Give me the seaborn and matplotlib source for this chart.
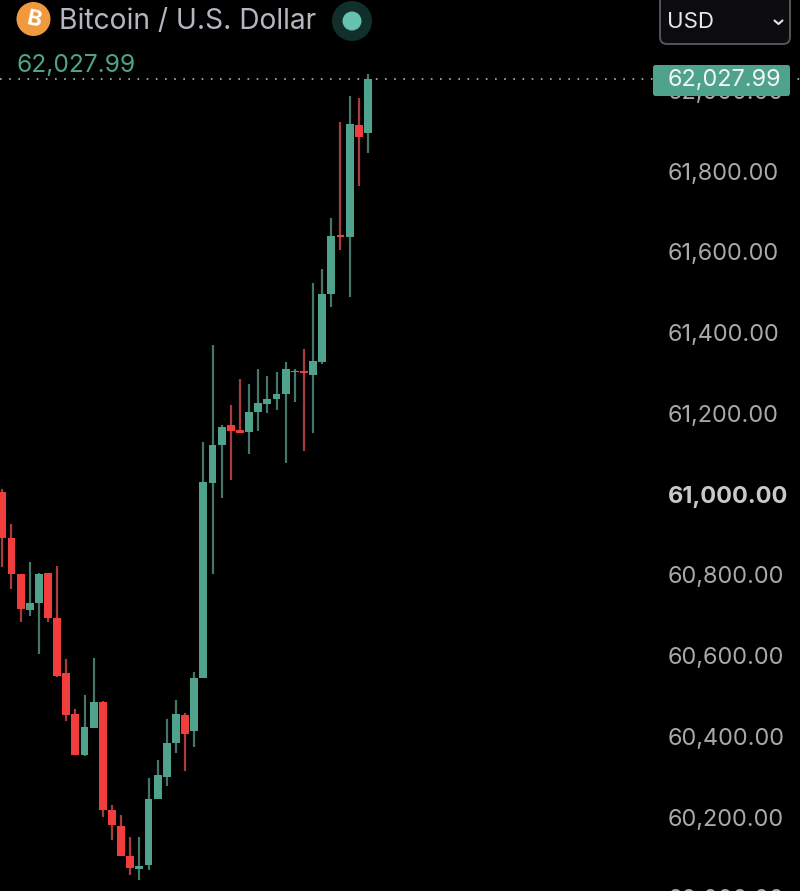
import numpy as np
import pandas as pd
import seaborn as sns
import matplotlib
matplotlib.use("Agg")
import matplotlib.pyplot as plt
from matplotlib.lines import Line2D
from matplotlib.patches import Circle, FancyBboxPatch, Rectangle

# BTC/USD candles, oldest first
opens = [61006, 60890, 60802, 60713, 60731, 60804, 60693, 60557, 60455, 60354, 60421,
         60486, 60217, 60177, 60103, 60072, 60081, 60244, 60300, 60383, 60453, 60414,
         60544, 61027, 61121, 61170, 61159, 61154, 61202, 61222, 61236, 61248, 61301,
         61305, 61295, 61328, 61495, 61642, 61636, 61915, 61893]
closes = [60890, 60802, 60714, 60731, 60802, 60693, 60550, 60453, 60354, 60422, 60486,
          60217, 60179, 60103, 60073, 60079, 60245, 60305, 60383, 60454, 60406, 60545,
          61030, 61121, 61167, 61156, 61152, 61202, 61225, 61236, 61248, 61310, 61305,
          61299, 61329, 61495, 61640, 61637, 61916, 61883, 62027.99]
highs = [61012, 60926, 60802, 60831, 60804, 60805, 60822, 60591, 60468, 60502, 60595,
         60487, 60230, 60204, 60150, 60151, 60296, 60341, 60442, 60490, 60457, 60558,
         61130, 61370, 61171, 61221, 61286, 61272, 61310, 61292, 61301, 61328, 61309,
         61359, 61522, 61557, 61684, 61921, 61986, 61981, 62040]
lows = [60820, 60765, 60682, 60698, 60604, 60682, 60546, 60438, 60354, 60352, 60421,
        60201, 60143, 60103, 60056, 60044, 60069, 60244, 60278, 60358, 60314, 60373,
        60544, 60801, 60989, 61035, 61152, 61099, 61157, 61200, 61208, 61076, 61229,
        61107, 61152, 61321, 61464, 61604, 61489, 61763, 61844]

price_ticks = [60000, 60200, 60400, 60600, 60800, 61000, 61200, 61400, 61600, 61800, 62000]
last_price = 62027.99
title = "Bitcoin / U.S. Dollar"
currency = "USD"

UP, DOWN = "#4fa38c", "#f23d3d"
UP_WICK, DOWN_WICK = "#44766a", "#a83c3c"
BG = "#000000"
FONT = ["Inter", "DejaVu Sans"]

sns.set_theme(style="dark", rc={"axes.facecolor": BG, "figure.facecolor": BG})
plt.rcParams["font.family"] = FONT

df = pd.DataFrame({"idx": np.arange(len(opens)), "open": opens, "close": closes,
                   "high": highs, "low": lows})
df["base"] = df[["open", "close"]].min(axis=1)
df["body"] = (df["close"] - df["open"]).abs()
df["rising"] = df["close"] >= df["open"]

W, H = 800, 891
SPACING = 9.14     # pixels per candle
FIRST_X = 2.3      # pixel column of the first candle
PX_PER_USD = 0.40375
Y_61K = 494        # pixel row of the 61,000 level
EXTRA_BOTTOM = 20  # the axes run past the lower edge so the 60,000 label is cut off

fig = plt.figure(figsize=(W / 100, H / 100), dpi=100, facecolor=BG)
ax = fig.add_axes([0, -EXTRA_BOTTOM / H, 1, (H + EXTRA_BOTTOM) / H])

# Last-price guide, under the candles
ax.axhline(last_price, color="#a8b8b2", lw=1.2, dashes=(1, 4.5), zorder=1)

# Wicks
for rising, colour in ((True, UP_WICK), (False, DOWN_WICK)):
    sub = df[df["rising"] == rising]
    ax.vlines(sub["idx"], sub["low"], sub["high"], color=colour, lw=1.6, zorder=2)

# Bodies
for rising, colour in ((True, UP), (False, DOWN)):
    sub = df[df["rising"] == rising]
    sns.barplot(data=sub, x="idx", y="body", bottom=sub["base"].to_numpy(), native_scale=True,
                width=0.86, color=colour, saturation=1, errorbar=None, linewidth=0,
                zorder=3, ax=ax)

ax.set_xlim(-FIRST_X / SPACING, (W - FIRST_X) / SPACING)
ax.set_ylim(61000 - (H + EXTRA_BOTTOM - Y_61K) / PX_PER_USD, 61000 + Y_61K / PX_PER_USD)
ax.set_xlabel("")
ax.set_ylabel("")
ax.set_xticks([])
ax.grid(False)
for s in ax.spines.values():
    s.set_visible(False)

# Price scale printed inside the right edge
ax.yaxis.tick_right()
ax.set_yticks(price_ticks)
ax.set_yticklabels([f"{p:,.2f}" for p in price_ticks])
ax.tick_params(axis="y", length=0, pad=-95, labelsize=16.9, labelcolor="#a9a9ad")
for lab, p in zip(ax.get_yticklabels(), price_ticks):
    if p == 61000:
        lab.set_fontweight("bold")
        lab.set_color("#c9c9cc")
        lab.set_fontsize(16.9)

# Overlay in pixel coordinates for the header and the price tag
ui = fig.add_axes([0, 0, 1, 1], facecolor="none")
ui.set_xlim(0, W)
ui.set_ylim(H, 0)
ui.axis("off")

ui.add_patch(Circle((33.5, 19), 17, color="#f0993e", lw=0))
ui.text(33.5, 19.5, "B", color="white", fontsize=16, fontweight="bold", rotation=-12,
        ha="center", va="center")
ui.text(59, 22, title, color="#b6b6c0", fontsize=20.3, ha="left", va="center")
ui.add_patch(Circle((352, 21), 20, color="#12302b", lw=0))
ui.add_patch(Circle((352, 21), 9.5, color="#66c2ad", lw=0))
ui.text(16, 65, f"{last_price:,.2f}", color=UP, fontsize=17.7, ha="left", va="center")

# Currency selector
ui.add_patch(FancyBboxPatch((660, -6), 130, 50, boxstyle="round,pad=0,rounding_size=7",
                            fc="#0c0c0e", ec="#55555a", lw=1.4))
ui.text(667, 22, currency, color="#e6e6e8", fontsize=16, ha="left", va="center")
ui.add_line(Line2D([774.5, 778.5, 782.5], [20.5, 24, 20.5], color="#e6e6e8", lw=1.5,
                   solid_capstyle="round"))

# Last-price tag
ui.add_patch(FancyBboxPatch((653, 65), 137, 31, boxstyle="round,pad=0,rounding_size=2.5",
                            fc=UP, ec="none"))
ui.text(668, 80, f"{last_price:,.2f}", color="#f2f7f5", fontsize=16.9, ha="left", va="center")

fig.savefig("out.png", dpi=100, facecolor=BG)
